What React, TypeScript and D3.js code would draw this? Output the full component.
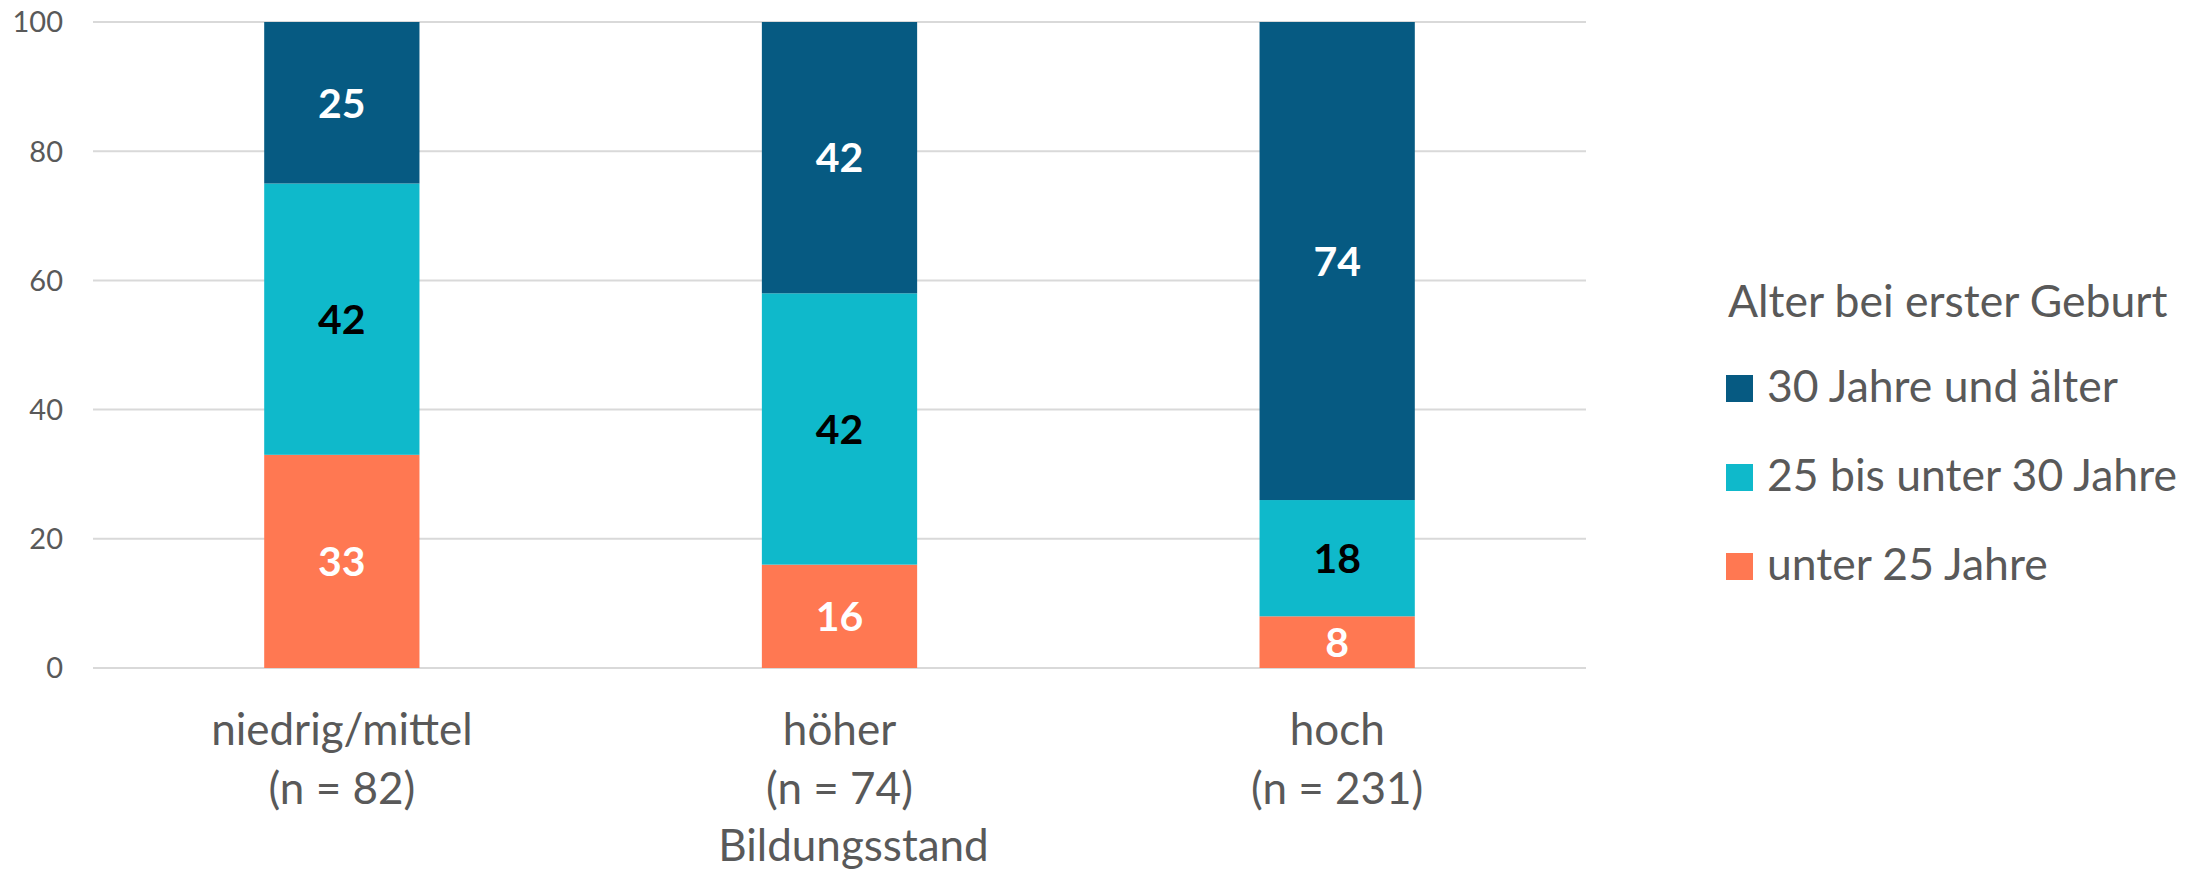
import React from 'react';
import * as d3 from 'd3';

// Bildungsstand categories (two-line labels)
const categories = ['niedrig/mittel', 'höher', 'hoch'];
const sampleSizes = ['(n = 82)', '(n = 74)', '(n = 231)'];

// stacked series, bottom to top
const seriesNames = ['unter 25 Jahre', '25 bis unter 30 Jahre', '30 Jahre und älter'];
const under25 = [33, 16, 8];
const from25to30 = [42, 42, 18];
const over30 = [25, 42, 74];

const yTicks = [0, 20, 40, 60, 80, 100];
const legendTitle = 'Alter bei erster Geburt';
const axisTitle = 'Bildungsstand';

const colors = ['#FF7852', '#0FB9CB', '#065A82'];
const labelColors = ['#FFFFFF', '#000000', '#FFFFFF'];

const W = 2195;
const H = 872;
const FONT = 'Lato, "Noto Sans", sans-serif';
const GRAY = '#595959';

const App = () => {
  const margin = { top: 22, left: 93, right: 609, bottom: 204 };
  const x = d3
    .scaleBand<string>()
    .domain(categories)
    .range([margin.left, W - margin.right])
    .paddingInner(0.688)
    .paddingOuter(0.344);
  const y = d3
    .scaleLinear()
    .domain([0, 100])
    .range([H - margin.bottom, margin.top]);

  // build stack table from the arrays
  const table = categories.map((c, i) => ({
    cat: c,
    s0: under25[i],
    s1: from25to30[i],
    s2: over30[i],
  }));
  const stacked = d3.stack<any>().keys(['s0', 's1', 's2'])(table);

  const [x0, x1] = x.range();

  return (
    <svg
      width={W}
      height={H}
      style={{ position: 'absolute', left: 0, top: 0, background: '#fff' }}
      fontFamily={FONT}
    >
      {/* gridlines */}
      {yTicks.map((t) => (
        <line
          key={'g' + t}
          x1={x0}
          x2={x1}
          y1={y(t)}
          y2={y(t)}
          stroke="#D9D9D9"
          strokeWidth={2}
        />
      ))}
      {/* y tick labels */}
      {yTicks.map((t) => (
        <text
          key={'t' + t}
          x={63}
          y={y(t)}
          dy="0.36em"
          textAnchor="end"
          fontSize={29}
          fill={GRAY}
        >
          {t}
        </text>
      ))}

      {/* bars */}
      {stacked.map((layer, si) => (
        <g key={layer.key} fill={colors[si]}>
          {layer.map((d: any, i: number) => (
            <rect
              key={i}
              x={x(d.data.cat)}
              y={y(d[1])}
              width={x.bandwidth()}
              height={y(d[0]) - y(d[1])}
            />
          ))}
        </g>
      ))}

      {/* value labels */}
      {stacked.map((layer, si) => (
        <g key={'l' + layer.key}>
          {layer.map((d: any, i: number) => (
            <text
              key={i}
              x={(x(d.data.cat) ?? 0) + x.bandwidth() / 2}
              y={y((d[0] + d[1]) / 2)}
              dy="0.36em"
              textAnchor="middle"
              fontSize={41}
              fontWeight="bold"
              fill={labelColors[si]}
            >
              {d[1] - d[0]}
            </text>
          ))}
        </g>
      ))}

      {/* category labels */}
      {categories.map((c, i) => (
        <text
          key={'c' + c}
          x={(x(c) ?? 0) + x.bandwidth() / 2}
          textAnchor="middle"
          fontSize={44}
          fill={GRAY}
        >
          <tspan x={(x(c) ?? 0) + x.bandwidth() / 2} y={745}>
            {c}
          </tspan>
          <tspan x={(x(c) ?? 0) + x.bandwidth() / 2} y={804}>
            {sampleSizes[i]}
          </tspan>
        </text>
      ))}
      <text x={(x0 + x1) / 2 + 14} y={861} textAnchor="middle" fontSize={44} fill={GRAY}>
        {axisTitle}
      </text>

      {/* legend */}
      <g transform="translate(1726,0)">
        <text x={2} y={317} fontSize={44.5} fill={GRAY}>
          {legendTitle}
        </text>
        {[2, 1, 0].map((si, k) => (
          <g key={seriesNames[si]} transform={`translate(0,${402 + k * 89})`}>
            <rect x={0} y={-27} width={27} height={27} fill={colors[si]} />
            <text x={41} y={0} fontSize={44.5} fill={GRAY}>
              {seriesNames[si]}
            </text>
          </g>
        ))}
      </g>
    </svg>
  );
};

export default App;
